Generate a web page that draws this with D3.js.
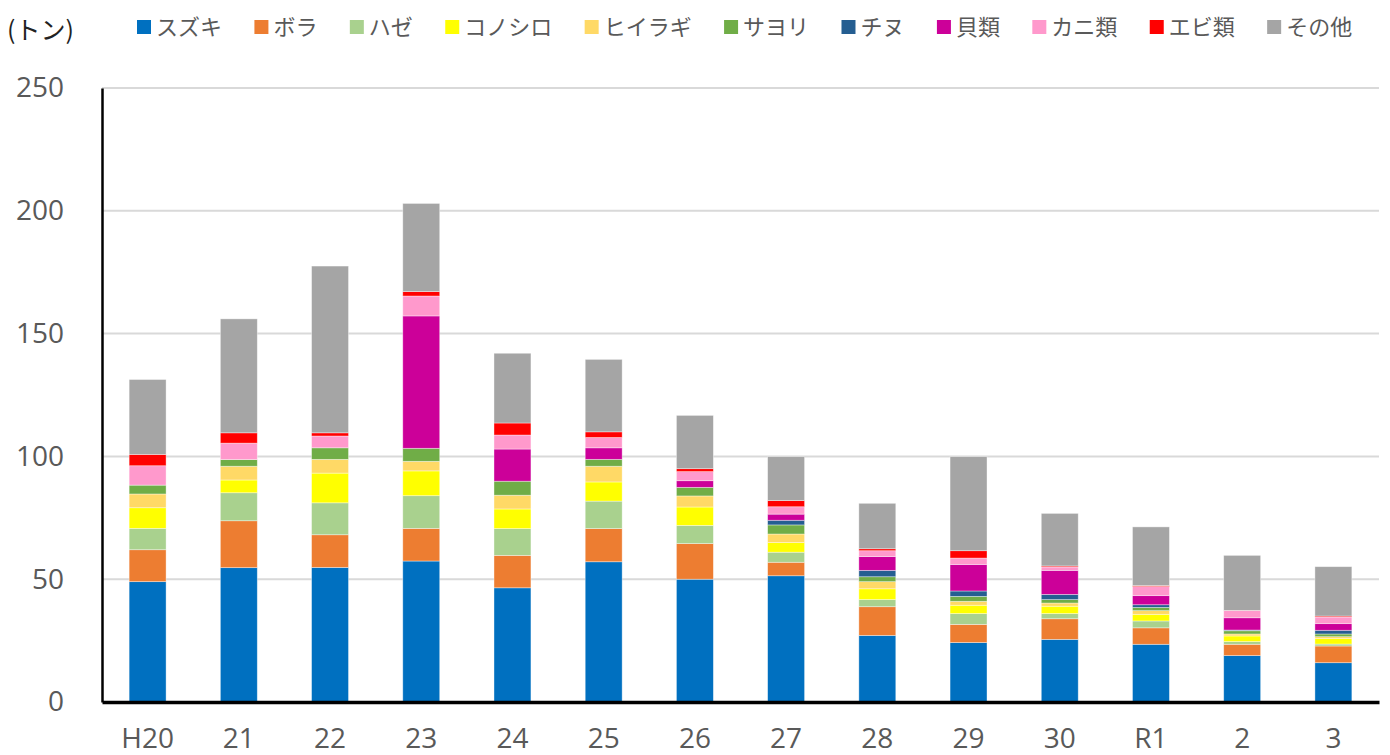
<!DOCTYPE html>
<html>
<head>
<meta charset="utf-8">
<script src="https://cdn.jsdelivr.net/npm/d3@7"></script>
<style>
    body {margin:0; background:#fff;}
    text {font-family:"Noto Sans CJK JP","Noto Sans",sans-serif;}
</style>
</head>
<body>
<svg id="graph1"></svg>
<script>
// years along the bottom
var years = ["H20","21","22","23","24","25","26","27","28","29","30","R1","2","3"];

// one array per fish (tons)
var suzuki   = [49.0,54.7,54.8,57.4,46.5,57.1,50.0,51.4,27.1,24.2,25.5,23.5,18.9,16.0];
var bora     = [13.0,19.1,13.3,13.3,13.2,13.5,14.5, 5.5,11.7, 7.4, 8.4, 6.7, 4.6, 6.8];
var haze     = [ 8.7,11.4,13.0,13.3,10.9,11.2, 7.4, 4.1, 2.9, 4.4, 2.1, 2.8, 1.1, 0.8];
var konoshiro= [ 8.4, 5.2,12.1,10.1, 8.0, 7.8, 7.5, 3.9, 4.4, 3.4, 3.0, 2.7, 2.3, 2.2];
var hiiragi  = [ 5.6, 5.6, 5.6, 3.9, 5.6, 6.4, 4.5, 3.5, 2.9, 1.6, 1.3, 1.5, 0.8, 0.8];
var sayori   = [ 3.6, 2.7, 4.7, 5.3, 5.7, 2.8, 3.5, 3.7, 2.0, 2.0, 1.4, 1.3, 1.3, 1.1];
var chinu    = [ 0.0, 0.0, 0.0, 0.0, 0.0, 0.0, 0.0, 1.9, 2.6, 2.2, 2.1, 1.1, 0.3, 1.5];
var kai      = [ 0.0, 0.0, 0.0,53.9,13.1, 4.7, 2.7, 2.5, 5.6,10.8, 9.8, 3.7, 5.0, 2.7];
var kani     = [ 7.9, 6.7, 4.8, 8.1, 5.7, 4.2, 3.7, 3.0, 2.4, 2.6, 1.4, 3.7, 2.9, 2.7];
var ebi      = [ 4.6, 4.2, 1.3, 1.8, 4.9, 2.3, 1.2, 2.5, 0.8, 3.0, 0.4, 0.4, 0.1, 0.4];
var sonota   = [30.5,46.4,67.9,35.9,28.4,29.5,21.7,17.9,18.5,38.3,21.4,23.9,22.4,20.1];

var seriesNames = ["スズキ","ボラ","ハゼ","コノシロ","ヒイラギ","サヨリ","チヌ","貝類","カニ類","エビ類","その他"];
var seriesColors = ["#0070c0","#ed7d31","#a9d18e","#ffff00","#ffd966","#70ad47","#255e91","#cc0099","#ff99cc","#ff0000","#a5a5a5"];
var yTicks = [0,50,100,150,200,250];

var allSeries = [suzuki,bora,haze,konoshiro,hiiragi,sayori,chinu,kai,kani,ebi,sonota];

// build rows for d3.stack
var rows = years.map(function(y,i)
{
    var row = {year:y};
    seriesNames.forEach(function(name,k)
    {
        row[name] = allSeries[k][i];
    })
    return row;
});

var screen = {width:1390, height:755};
var margins = {top:88, bottom:53, left:102, right:11};
var graph =
{
    width:screen.width-margins.left-margins.right,
    height:screen.height-margins.top-margins.bottom
}

var svg = d3.select("#graph1")
    .attr("width",screen.width)
    .attr("height",screen.height)

var xScale = d3.scaleBand()
    .domain(years)
    .range([0,graph.width])
    .paddingInner(0.595)
    .paddingOuter(0.2975)

var yScale = d3.scaleLinear()
    .domain([0,250])
    .range([graph.height,0])

var g = svg.append("g")
    .attr("transform","translate("+margins.left+","+margins.top+")")

// gridlines
g.append("g")
    .selectAll("line")
    .data(yTicks.filter(function(t){return t>0}))
    .enter()
    .append("line")
    .attr("x1",0)
    .attr("x2",graph.width)
    .attr("y1",function(t){return yScale(t)})
    .attr("y2",function(t){return yScale(t)})
    .attr("stroke","#d9d9d9")
    .attr("stroke-width",2)

// stacked bars
var stack = d3.stack().keys(seriesNames);
var layers = stack(rows);

g.append("g")
    .selectAll("g")
    .data(layers)
    .enter()
    .append("g")
    .attr("fill",function(d,i){return seriesColors[i]})
    .selectAll("rect")
    .data(function(d){return d})
    .enter()
    .append("rect")
    .attr("x",function(d){return xScale(d.data.year)})
    .attr("width",xScale.bandwidth())
    .attr("y",function(d){return yScale(d[1])})
    .attr("height",function(d){return Math.max(0,yScale(d[0])-yScale(d[1]))})
    .attr("stroke","#ffffff")
    .attr("stroke-opacity",0.5)
    .attr("stroke-width",0.75)

// y axis
var yAxis = d3.axisLeft(yScale).tickValues(yTicks).tickSize(0).tickPadding(38);
var yA = g.append("g").call(yAxis);
yA.select(".domain").attr("stroke","#000").attr("stroke-width",2.5);
yA.selectAll("text")
    .attr("fill","#595959")
    .style("font-size","28px")
    .style("font-family","'Open Sans','Noto Sans',sans-serif")

// x axis
var xAxis = d3.axisBottom(xScale).tickSize(0).tickPadding(26);
var xA = g.append("g")
    .attr("transform","translate(0,"+graph.height+")")
    .call(xAxis);
xA.select(".domain").attr("stroke","#000").attr("stroke-width",3.5);
xA.selectAll("text")
    .attr("fill","#595959")
    .style("font-size","28px")
    .style("font-family","'Open Sans','Noto Sans',sans-serif")

// unit label
svg.append("text")
    .attr("x",7)
    .attr("y",39)
    .text("(トン)")
    .attr("fill","#222")
    .style("font-size","25px")

// legend
var legend = svg.append("g").classed("legend",true);
var lx = 137;
seriesNames.forEach(function(name,i)
{
    legend.append("rect")
        .attr("x",lx)
        .attr("y",20)
        .attr("width",14)
        .attr("height",14)
        .attr("fill",seriesColors[i])
    var t = legend.append("text")
        .attr("x",lx+19)
        .attr("y",35)
        .text(name)
        .attr("fill","#595959")
        .style("font-size","22px")
    lx = lx+19+t.node().getComputedTextLength()+32.4;
})
</script>
</body>
</html>
